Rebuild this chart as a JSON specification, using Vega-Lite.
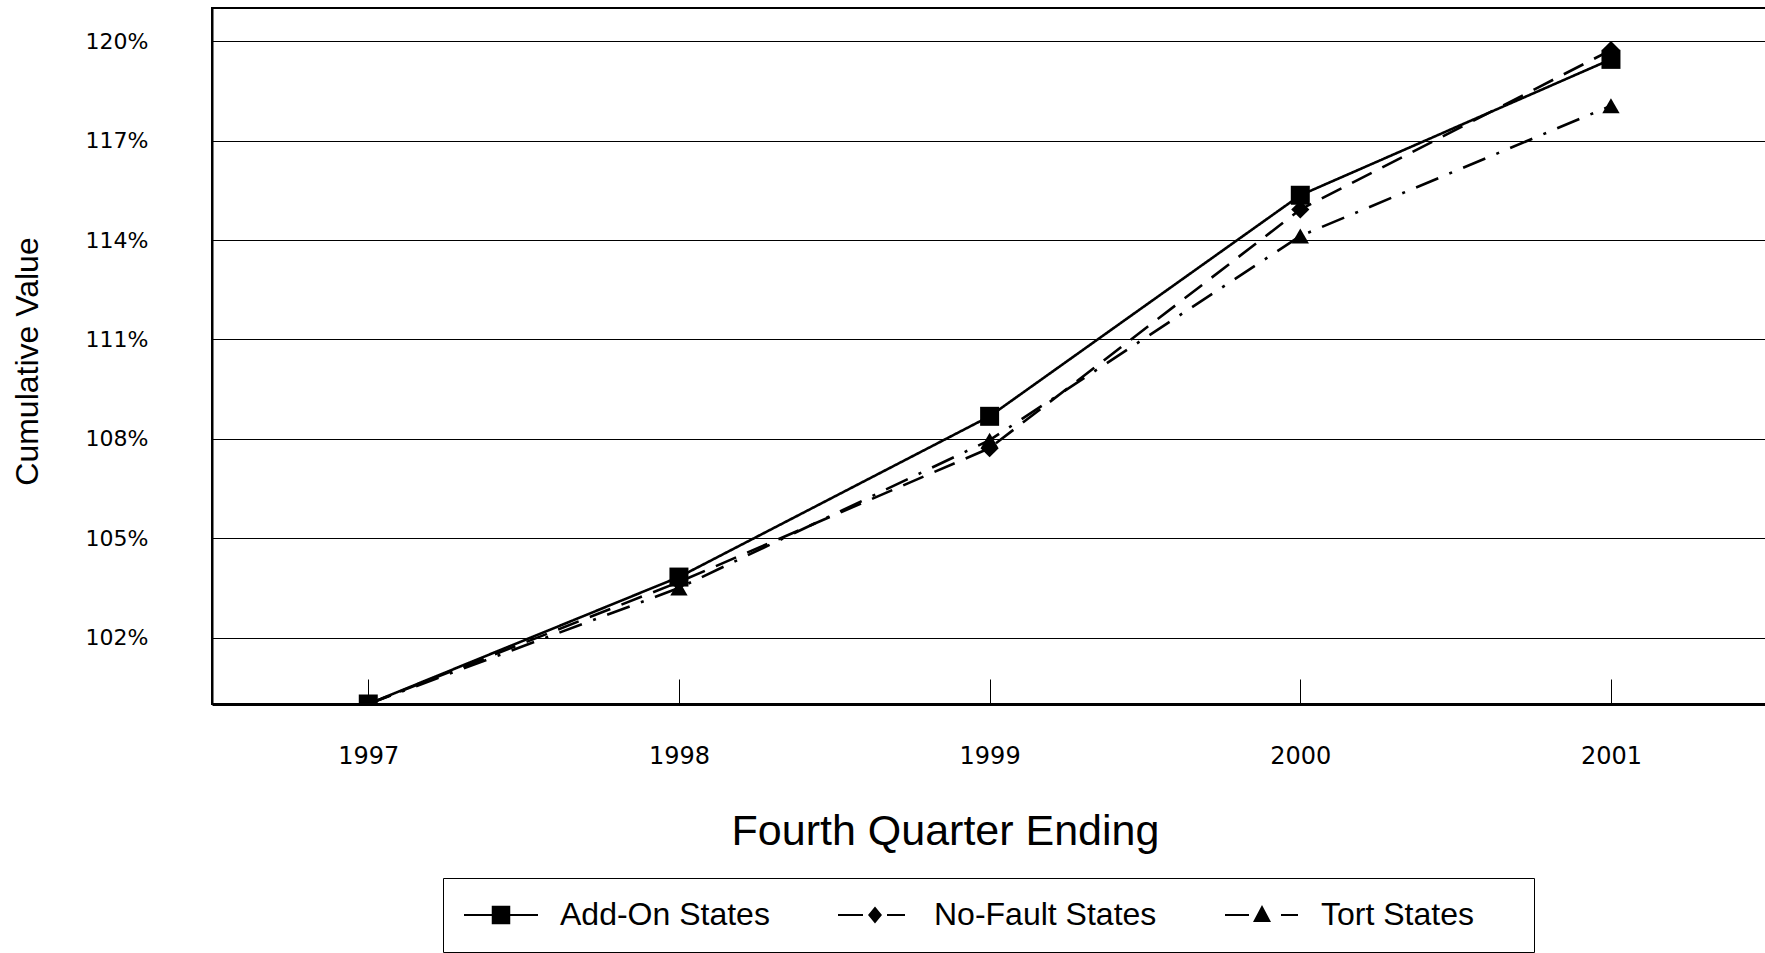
{
  "$schema": "https://vega.github.io/schema/vega-lite/v6.json",
  "width": 1563,
  "height": 696,
  "autosize": {"type": "none"},
  "padding": {"left": 212, "top": 8, "right": 0, "bottom": 250},
  "background": "white",
  "view": {"stroke": "black", "strokeWidth": 2},
  "data": {
    "values": [
      {"year": 1997, "series": "Add-On States", "value": 100},
      {"year": 1998, "series": "Add-On States", "value": 103.83},
      {"year": 1999, "series": "Add-On States", "value": 108.68},
      {"year": 2000, "series": "Add-On States", "value": 115.35},
      {"year": 2001, "series": "Add-On States", "value": 119.45},
      {"year": 1997, "series": "No-Fault States", "value": 100},
      {"year": 1998, "series": "No-Fault States", "value": 103.68},
      {"year": 1999, "series": "No-Fault States", "value": 107.72},
      {"year": 2000, "series": "No-Fault States", "value": 114.92},
      {"year": 2001, "series": "No-Fault States", "value": 119.73},
      {"year": 1997, "series": "Tort States", "value": 100},
      {"year": 1998, "series": "Tort States", "value": 103.5},
      {"year": 1999, "series": "Tort States", "value": 107.96},
      {"year": 2000, "series": "Tort States", "value": 114.12},
      {"year": 2001, "series": "Tort States", "value": 118.05}
    ]
  },
  "encoding": {
    "x": {
      "field": "year",
      "type": "quantitative",
      "scale": {"domain": [1996.497, 2001.528], "nice": false, "zero": false},
      "axis": {
        "values": [1997, 1998, 1999, 2000, 2001],
        "format": "d",
        "title": "Fourth Quarter Ending",
        "grid": false,
        "domainColor": "black",
        "domainWidth": 3,
        "tickColor": "black",
        "tickWidth": 1,
        "tickSize": -25,
        "labelFont": "DejaVu Sans",
        "labelFontSize": 24,
        "labelColor": "black",
        "labelPadding": 84,
        "labelBaseline": "alphabetic",
        "labelFlush": false,
        "labelOverlap": false,
        "titleFont": "Liberation Sans",
        "titleFontSize": 43,
        "titleFontWeight": "normal",
        "titleColor": "black",
        "titleX": 733,
        "titleY": 140,
        "titleBaseline": "alphabetic",
        "titleAlign": "center"
      }
    },
    "y": {
      "field": "value",
      "type": "quantitative",
      "scale": {"domain": [100, 121], "nice": false, "zero": false},
      "axis": {
        "values": [102, 105, 108, 111, 114, 117, 120],
        "labelExpr": "datum.value + '%'",
        "title": "Cumulative Value",
        "grid": true,
        "gridColor": "black",
        "gridWidth": 1,
        "gridOpacity": 1,
        "ticks": false,
        "domainColor": "black",
        "domainWidth": 2,
        "labelFont": "DejaVu Sans",
        "labelFontSize": 22,
        "labelColor": "black",
        "labelPadding": 64,
        "titleFont": "Liberation Sans",
        "titleFontSize": 32,
        "titleFontWeight": "normal",
        "titleColor": "black",
        "titleX": -185,
        "titleY": 353,
        "titleAngle": -90,
        "titleBaseline": "middle",
        "titleAlign": "center"
      }
    }
  },
  "layer": [
    {
      "mark": {"type": "line", "color": "black", "strokeWidth": 2.6, "clip": true},
      "encoding": {
        "strokeDash": {
          "field": "series",
          "type": "nominal",
          "scale": {"range": [[1, 0], [22, 12], [24, 12, 3, 12]]},
          "legend": null
        }
      }
    },
    {
      "mark": {"type": "point", "filled": true, "color": "black", "opacity": 1, "clip": true},
      "encoding": {
        "size": {
          "field": "series",
          "type": "nominal",
          "scale": {"range": [361, 300, 380]},
          "legend": null
        },
        "shape": {
          "field": "series",
          "type": "nominal",
          "scale": {"range": ["square", "diamond", "triangle-up"]},
          "legend": null
        }
      }
    },
    {
      "transform": [{"filter": "false"}],
      "mark": {"type": "point", "filled": true, "fill": "black", "strokeWidth": 0, "opacity": 1},
      "encoding": {
        "shape": {
          "field": "series",
          "type": "nominal",
          "scale": {
            "domain": ["Add-On States", "No-Fault States", "Tort States"],
            "range": [
              "M-3.083,-0.092H3.083V0.092H-3.083Z M-0.771,-0.771H0.771V0.771H-0.771Z",
              "M-3.083,-0.092H-1V0.092H-3.083Z M1,-0.092H2.5V0.092H1Z M0,-0.708L0.583,0L0,0.708L-0.583,0Z",
              "M-3.083,-0.092H-1.083V0.092H-3.083Z M1.583,-0.092H3V0.092H1.583Z M0,-0.833L0.75,0.583L-0.75,0.583Z"
            ]
          },
          "legend": {
            "orient": "none",
            "legendX": 231,
            "legendY": 870,
            "direction": "horizontal",
            "columns": 3,
            "title": "\u00a0",
            "titleOrient": "right",
            "titlePadding": 39,
            "titleFontSize": 32,
            "titleFont": "Liberation Sans",
            "strokeColor": "black",
            "fillColor": "white",
            "padding": 21,
            "columnPadding": 68,
            "labelFont": "Liberation Sans",
            "labelFontSize": 32,
            "labelColor": "black",
            "labelOffset": 43,
            "labelLimit": 400,
            "symbolSize": 576,
            "symbolOffset": 21,
            "symbolStrokeWidth": 0,
            "symbolFillColor": "black"
          }
        }
      }
    }
  ],
  "resolve": {"scale": {"shape": "independent", "size": "independent"}}
}
